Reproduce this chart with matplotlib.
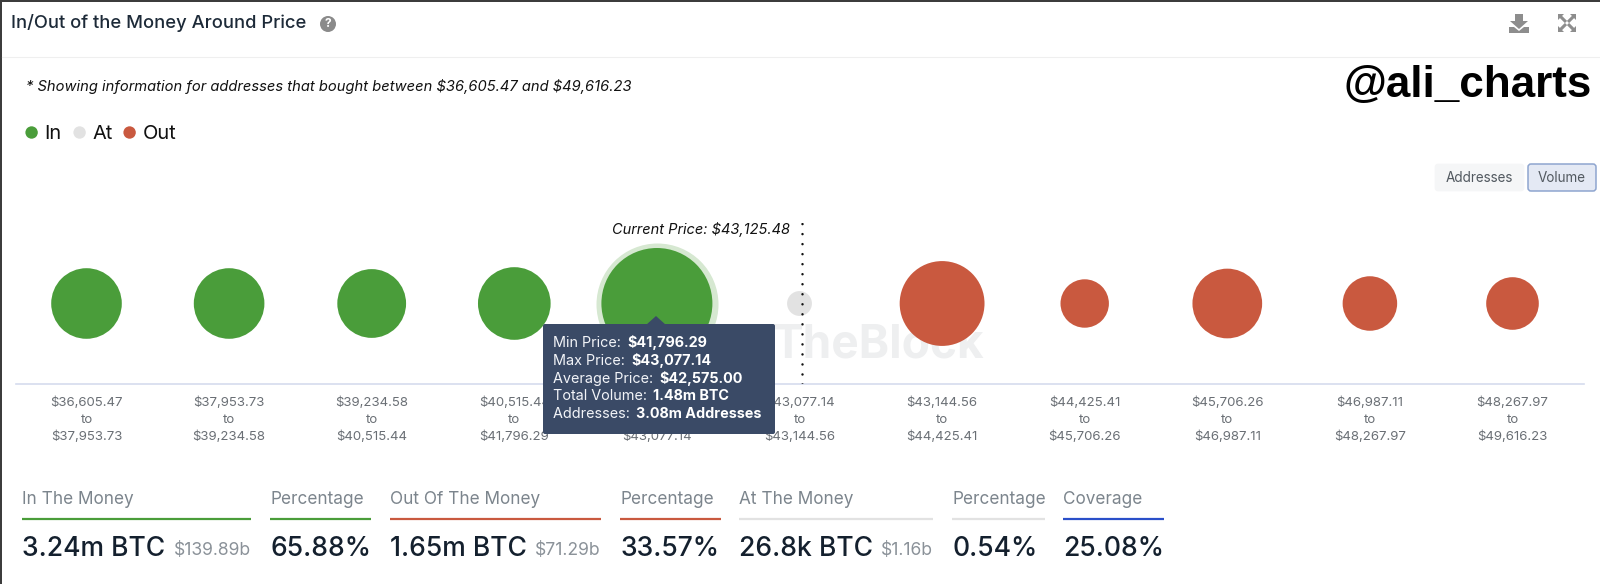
import matplotlib
matplotlib.use("Agg")
import matplotlib.pyplot as plt
from matplotlib.patches import Rectangle, FancyBboxPatch, Polygon, Circle

plt.rcParams['font.family'] = ['Inter', 'DejaVu Sans']
plt.rcParams['text.parse_math'] = False

# ---------- data ----------
range_low = ["$36,605.47", "$37,953.73", "$39,234.58", "$40,515.44", "$41,796.29", "$43,077.14",
             "$43,144.56", "$44,425.41", "$45,706.26", "$46,987.11", "$48,267.97"]
range_high = ["$37,953.73", "$39,234.58", "$40,515.44", "$41,796.29", "$43,077.14", "$43,144.56",
              "$44,425.41", "$45,706.26", "$46,987.11", "$48,267.97", "$49,616.23"]
volume_m_btc = [0.44, 0.44, 0.41, 0.475, 1.48, 0.0268, 0.72, 0.16, 0.425, 0.22, 0.20]
status = ["In", "In", "In", "In", "In", "At", "Out", "Out", "Out", "Out", "Out"]
hover_index = 4

tooltip_rows = [("Min Price: ", "$41,796.29"), ("Max Price: ", "$43,077.14"),
                ("Average Price: ", "$42,575.00"), ("Total Volume: ", "1.48m BTC"),
                ("Addresses: ", "3.08m Addresses")]

stat_labels = ["In The Money", "Percentage", "Out Of The Money", "Percentage",
               "At The Money", "Percentage", "Coverage"]
stat_values = ["3.24m BTC", "65.88%", "1.65m BTC", "33.57%", "26.8k BTC", "0.54%", "25.08%"]
stat_usd = ["$139.89b", "", "$71.29b", "", "$1.16b", "", ""]

# ---------- style ----------
W, H = 1600, 584
DPI = 100
COL = {"In": "#4a9d3a", "At": "#e2e2e2", "Out": "#c9593f"}
BLUE = "#2a4fc9"
stat_colors = [COL["In"], COL["In"], COL["Out"], COL["Out"], "#e2e2e2", "#e2e2e2", BLUE]
stat_x = [(22, 251), (270, 371), (390, 601), (620, 720.5), (739, 932.5), (952, 1045), (1063, 1164)]
DARK = "#14202e"
GRAY = "#7c858d"


def px_fs(px):
    return px * 72 / DPI


fig = plt.figure(figsize=(W / DPI, H / DPI), dpi=DPI, facecolor="white")

# main chart axes: categories on x, bubbles sized from volume
L, R, T, B = 16, 1584, 223, 384
ax = fig.add_axes([L / W, 1 - B / H, (R - L) / W, (B - T) / H], facecolor="none", zorder=1)
ax.set_xlim((L - 86.5) / 142.6, (R - 86.5) / 142.6)
ax.set_ylim(-1, 1)

# overlay in pixel coordinates for the page furniture
ov = fig.add_axes([0, 0, 1, 1], facecolor="none", zorder=2)
ov.set_xlim(0, W)
ov.set_ylim(H, 0)
ov.axis("off")


def size_pts(volume):
    radius_px = 55.5 * (volume / max(volume_m_btc)) ** 0.373
    return (2 * radius_px * 72 / DPI) ** 2


xs = list(range(len(volume_m_btc)))
# watermark behind bubbles
ax.text(878, 346, "TheBlock", transform=ov.transData, fontsize=px_fs(46), fontweight="bold",
        color="#eeeff0", ha="center", va="center", zorder=0.5)
# hover halo
ax.scatter([hover_index], [0], s=(2 * 61 * 72 / DPI) ** 2, color="#d6e8d1", linewidths=0, zorder=1.5)
ax.scatter(xs, [0] * len(xs), s=[size_pts(v) for v in volume_m_btc],
           c=[COL[s] for s in status], linewidths=0, zorder=2)
# current price line
ax.plot([5.02, 5.02], [-1, 1], color="#111111", lw=1.8, ls=(0, (0.01, 4.0)),
        dash_capstyle="round", zorder=3)

for side in ("top", "left", "right"):
    ax.spines[side].set_visible(False)
ax.spines["bottom"].set_color("#d5dcee")
ax.spines["bottom"].set_linewidth(1.2)
ax.set_yticks([])
ax.set_xticks(xs)
ax.set_xticklabels([f"{a}\nto\n{b}" for a, b in zip(range_low, range_high)],
                   fontsize=px_fs(13.2), color="#6a6f75", linespacing=1.52, ha="center")
ax.tick_params(axis="x", length=0, pad=9)


def T_(x, y, s, size, color=DARK, ha="left", weight="normal", style="normal", family=None, z=5):
    kw = {"family": family} if family else {}
    return ov.text(x, y, s, fontsize=px_fs(size), color=color, ha=ha, va="center",
                   fontweight=weight, fontstyle=style, zorder=z, **kw)


# window frame and header
ov.add_patch(Rectangle((0, 0), W, 1.6, color="#3c3c3c", lw=0))
ov.add_patch(Rectangle((0, 0), 1.6, H, color="#3c3c3c", lw=0))
ov.plot([2, W], [57, 57], color="#efefef", lw=0.8)
T_(11, 23, "In/Out of the Money Around Price", 18.4, color="#1d2a38", weight="medium")
ov.add_patch(Circle((328, 24), 8, color="#8a8a8a", lw=0))
T_(328, 24, "?", 12, color="white", ha="center", weight="bold")

# download icon
ICON = "#8d8d8d"
ov.add_patch(Polygon([(1515, 14), (1523, 14), (1523, 21), (1528, 21), (1519, 29), (1510, 21), (1515, 21)],
                     closed=True, color=ICON, lw=0))
ov.add_patch(Polygon([(1509, 27), (1514, 27), (1519, 31), (1524, 27), (1529, 27), (1529, 33), (1509, 33)],
                     closed=True, color=ICON, lw=0))
# expand icon: four outward arrows with a clear centre
ECX, ECY = 1567, 23
for dx, dy in [(-1, -1), (1, -1), (-1, 1), (1, 1)]:
    ov.plot([ECX + 1 * dx, ECX + 7 * dx], [ECY + 1 * dy, ECY + 7 * dy], color=ICON, lw=2.2,
            solid_capstyle="butt")
    ov.add_patch(Polygon([(ECX + 9 * dx, ECY + 9 * dy), (ECX + 3 * dx, ECY + 9 * dy),
                          (ECX + 9 * dx, ECY + 3 * dy)], closed=True, color=ICON, lw=0))

# note, handle, legend
T_(25.5, 86, "* Showing information for addresses that bought between $36,605.47 and $49,616.23",
   14.7, color="#111111", style="italic")
T_(1592, 85.5, "@ali_charts", 44, color="black", ha="right", weight="bold", family="Liberation Sans")
for cx, tx, name in [(31.6, 44, "In"), (79.6, 92, "At"), (129.6, 143, "Out")]:
    ov.add_patch(Circle((cx, 132.5), 6.2, color=COL[name], lw=0))
    T_(tx, 134, name, 20, color="#111111")

# buttons
ov.add_patch(FancyBboxPatch((1437, 166), 85, 23, boxstyle="round,pad=2,rounding_size=3",
                            fc="#f5f6f7", ec="#f5f6f7", lw=0.5))
T_(1479.5, 178, "Addresses", 13.5, color="#525960", ha="center")
ov.add_patch(FancyBboxPatch((1530, 166), 64, 23, boxstyle="round,pad=2,rounding_size=3",
                            fc="#e4e9f4", ec="#8ea5cf", lw=1.1))
T_(1562, 178, "Volume", 13.5, color="#525960", ha="center")

# current price label
T_(790, 229.5, "Current Price: $43,125.48", 14.6, color="#111111", ha="right", style="italic")

# tooltip
TIP = "#3a4a66"
ov.add_patch(FancyBboxPatch((545, 326), 228, 106, boxstyle="round,pad=2,rounding_size=2",
                            fc=TIP, ec=TIP, lw=0, zorder=4))
ov.add_patch(Polygon([(646, 325), (656, 316), (666, 325)], closed=True, color=TIP, lw=0, zorder=4))
fig.canvas.draw()
rend = fig.canvas.get_renderer()
for i, (k, v) in enumerate(tooltip_rows):
    y = 343 + i * 17.8
    t = T_(553, y, k, 14.4, color="#f2f4f8", z=6)
    bb = t.get_window_extent(rend)
    T_(553 + bb.width + 2, y, v, 14.4, color="white", weight="bold", z=6)

# stats row
for lab, val, usd, col, (x0, x1) in zip(stat_labels, stat_values, stat_usd, stat_colors, stat_x):
    T_(x0, 499.5, lab, 17.2, color=GRAY)
    ov.plot([x0, x1], [519, 519], color=col, lw=1.6, solid_capstyle="butt")
    T_(x0, 548.5, val, 26.5, color=DARK, weight="medium")
    if usd:
        T_(x1, 550.5, usd, 17.5, color="#8b9299", ha="right")

fig.savefig("out.png", dpi=DPI, facecolor="white")
